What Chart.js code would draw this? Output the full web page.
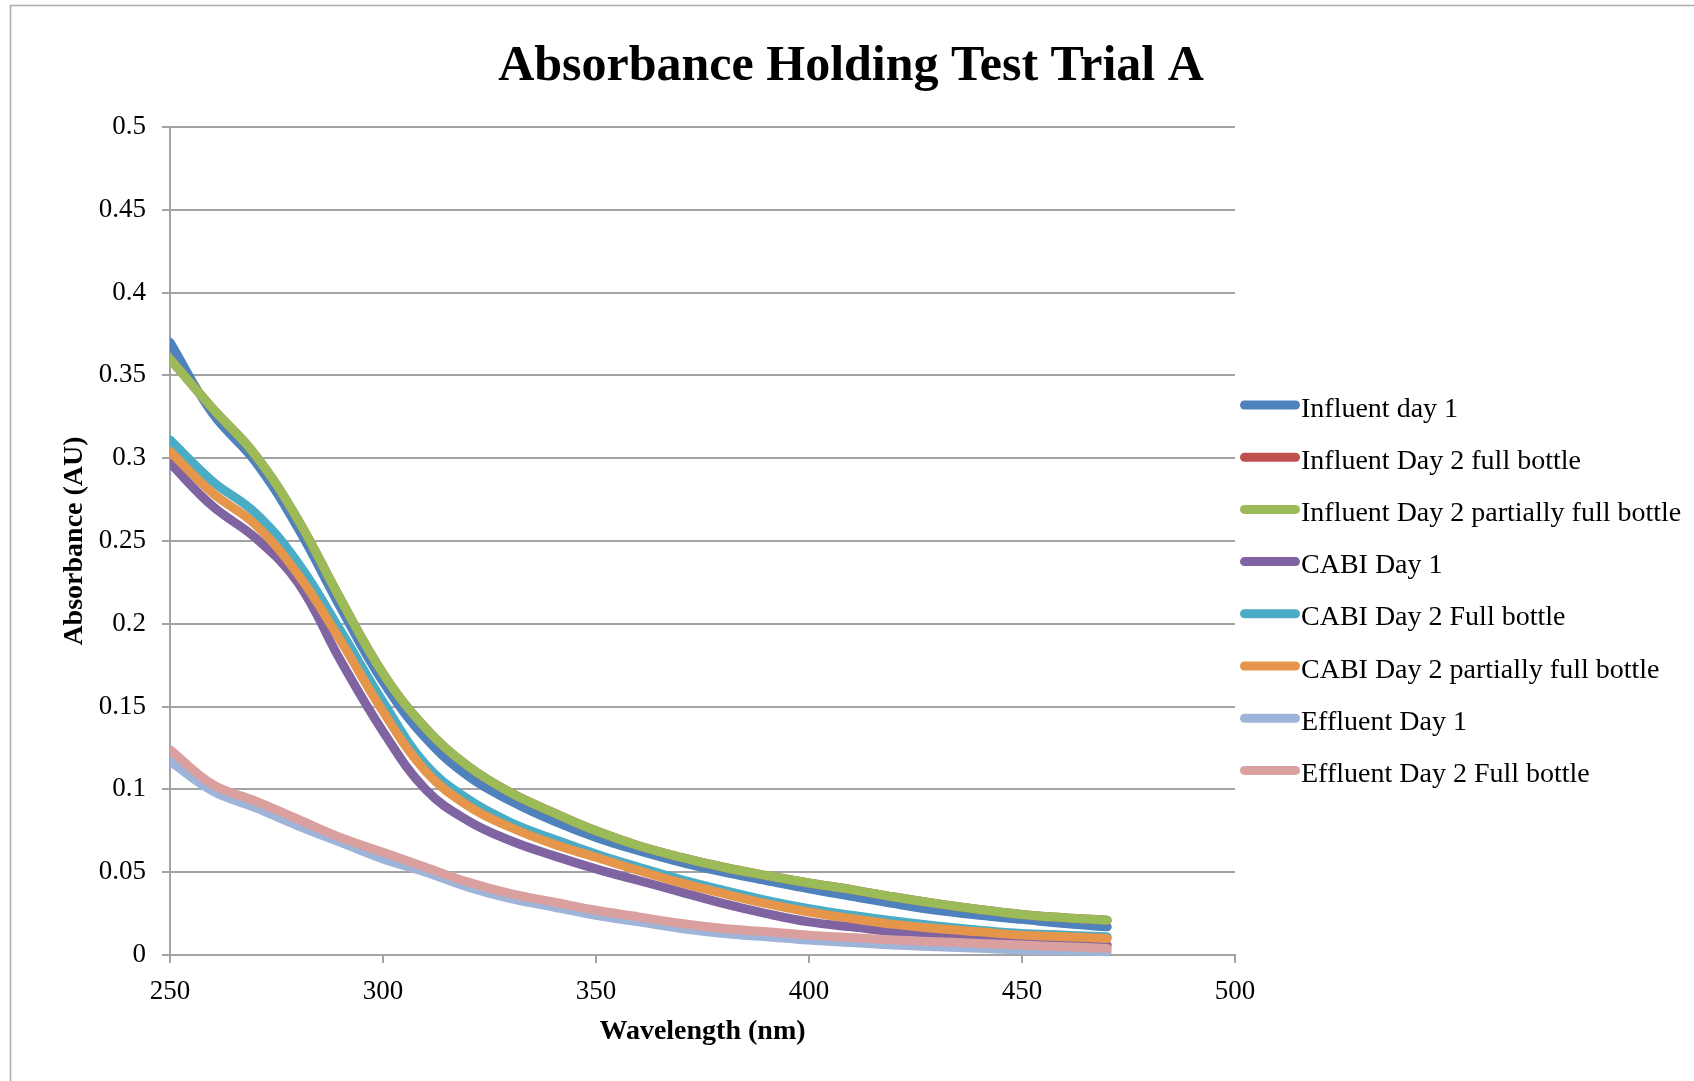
<!DOCTYPE html>
<html>
<head>
<meta charset="utf-8">
<title>Absorbance Holding Test Trial A</title>
<script src="https://cdn.jsdelivr.net/npm/chart.js@4.4.1/dist/chart.umd.min.js"></script>
<style>
  html, body { margin: 0; padding: 0; background: #fff; }
  #wrap { width: 1694px; height: 1081px; }
</style>
</head>
<body>
<div id="wrap"><canvas id="chart" width="1694" height="1081"></canvas></div>
<script>
const wavelengths = [250, 260, 270, 280, 290, 300, 310, 320, 330, 340, 350, 360,
                     370, 380, 390, 400, 410, 420, 430, 440, 450, 460, 470];

const influentDay1     = [0.370, 0.327, 0.298, 0.258, 0.210, 0.165, 0.131, 0.108, 0.093, 0.081, 0.071, 0.063,
                          0.056, 0.050, 0.045, 0.040, 0.0355, 0.031, 0.027, 0.024, 0.0215, 0.019, 0.017];
const influentDay2Full = [0.360, 0.330, 0.302, 0.263, 0.215, 0.170, 0.137, 0.114, 0.098, 0.086, 0.075, 0.066,
                          0.059, 0.053, 0.048, 0.0435, 0.0395, 0.035, 0.031, 0.0275, 0.0245, 0.0225, 0.021];
const influentDay2Part = [0.360, 0.330, 0.302, 0.263, 0.215, 0.170, 0.137, 0.114, 0.098, 0.086, 0.075, 0.066,
                          0.059, 0.053, 0.048, 0.0435, 0.0395, 0.035, 0.031, 0.0275, 0.0245, 0.0225, 0.021];
const cabiDay1         = [0.297, 0.271, 0.252, 0.225, 0.178, 0.135, 0.100, 0.081, 0.069, 0.060, 0.052, 0.045,
                          0.038, 0.031, 0.025, 0.020, 0.017, 0.014, 0.012, 0.010, 0.008, 0.007, 0.006];
const cabiDay2Full     = [0.311, 0.286, 0.267, 0.237, 0.196, 0.153, 0.115, 0.094, 0.080, 0.070, 0.061, 0.053,
                          0.0455, 0.039, 0.033, 0.028, 0.024, 0.0205, 0.0175, 0.015, 0.013, 0.012, 0.011];
const cabiDay2Part     = [0.304, 0.279, 0.260, 0.230, 0.190, 0.147, 0.111, 0.090, 0.077, 0.067, 0.059, 0.051,
                          0.0435, 0.037, 0.031, 0.026, 0.022, 0.0185, 0.016, 0.014, 0.012, 0.011, 0.010];
const effluentDay1     = [0.117, 0.099, 0.089, 0.078, 0.068, 0.058, 0.050, 0.041, 0.034, 0.029, 0.024, 0.020,
                          0.016, 0.013, 0.011, 0.009, 0.0075, 0.006, 0.005, 0.004, 0.003, 0.0025, 0.002];
const effluentDay2Full = [0.124, 0.103, 0.093, 0.082, 0.071, 0.062, 0.053, 0.044, 0.037, 0.032, 0.027, 0.023,
                          0.019, 0.016, 0.014, 0.012, 0.0105, 0.009, 0.008, 0.007, 0.006, 0.005, 0.004];

const seriesNames = ["Influent day 1", "Influent Day 2 full bottle", "Influent Day 2 partially full bottle",
                     "CABI Day 1", "CABI Day 2 Full bottle", "CABI Day 2 partially full bottle",
                     "Effluent Day 1", "Effluent Day 2 Full bottle"];
const seriesValues = [influentDay1, influentDay2Full, influentDay2Part, cabiDay1,
                      cabiDay2Full, cabiDay2Part, effluentDay1, effluentDay2Full];
const seriesColors = ["#4f81bd", "#c0504d", "#9bbb59", "#8064a2",
                      "#4bacc6", "#e6964a", "#9eb4d8", "#d9a09f"];

const FONT = "'Liberation Serif', 'Times New Roman', serif";
const GRID = "#a3a3a3";

// Frame, title and legend are painted by hand
const decor = {
  id: "decor",
  afterDraw(chart) {
    const ctx = chart.ctx;
    ctx.save();
    ctx.strokeStyle = "#ababab";
    ctx.lineWidth = 1.5;
    ctx.strokeRect(10.5, 5.5, 1720, 1120);

    ctx.fillStyle = "#000";
    ctx.font = "bold 50px " + FONT;
    ctx.textAlign = "center";
    ctx.textBaseline = "alphabetic";
    ctx.fillText("Absorbance Holding Test Trial A", 851, 80);

    ctx.textAlign = "left";
    ctx.font = "28px " + FONT;
    chart.data.datasets.forEach((ds, i) => {
      const y = 405 + i * 52.2;
      ctx.strokeStyle = ds.borderColor;
      ctx.lineWidth = 9;
      ctx.lineCap = "round";
      ctx.beginPath();
      ctx.moveTo(1244.5, y);
      ctx.lineTo(1295.5, y);
      ctx.stroke();
      ctx.fillText(ds.label, 1301, y + 11.5);
    });
    ctx.restore();
  }
};

new Chart(document.getElementById("chart"), {
  type: "line",
  data: {
    datasets: seriesNames.map((name, i) => ({
      label: name,
      data: wavelengths.map((w, j) => ({ x: w, y: seriesValues[i][j] })),
      borderColor: seriesColors[i],
      backgroundColor: seriesColors[i],
      borderWidth: 9,
      borderCapStyle: "round",
      borderJoinStyle: "round",
      pointRadius: 0,
      tension: 0.4,
      order: seriesNames.length - i,
      clip: { left: 0, top: false, right: false, bottom: false },
    })),
  },
  options: {
    responsive: false,
    animation: false,
    devicePixelRatio: 1,
    layout: { padding: { top: 127, left: 0, right: 459, bottom: 0 } },
    plugins: {
      legend: { display: false },
      title: { display: false },
      tooltip: { enabled: false },
    },
    scales: {
      x: {
        type: "linear",
        min: 250, max: 500,
        afterFit: s => { s.height = 126; },
        ticks: { stepSize: 50, padding: 13, color: "#000", font: { family: FONT, size: 27 } },
        grid: { drawOnChartArea: false, drawTicks: true, tickLength: 8, color: GRID, lineWidth: 2 },
        border: { color: GRID, width: 2 },
        title: {
          display: true, text: "Wavelength (nm)", color: "#000",
          font: { family: FONT, size: 28, weight: "bold" },
          padding: { top: 0, bottom: 32 },
        },
      },
      y: {
        min: 0, max: 0.5,
        afterFit: s => { s.width = 170; },
        ticks: {
          stepSize: 0.05, padding: 16, color: "#000",
          font: { family: FONT, size: 27 },
          callback: v => String(+v.toFixed(2)),
        },
        grid: { color: GRID, lineWidth: 2, tickLength: 8 },
        border: { color: GRID, width: 2 },
        title: {
          display: true, text: "Absorbance (AU)", color: "#000",
          font: { family: FONT, size: 28, weight: "bold" },
          padding: { top: 58, bottom: 0 },
        },
      },
    },
  },
  plugins: [decor],
});
</script>
</body>
</html>
